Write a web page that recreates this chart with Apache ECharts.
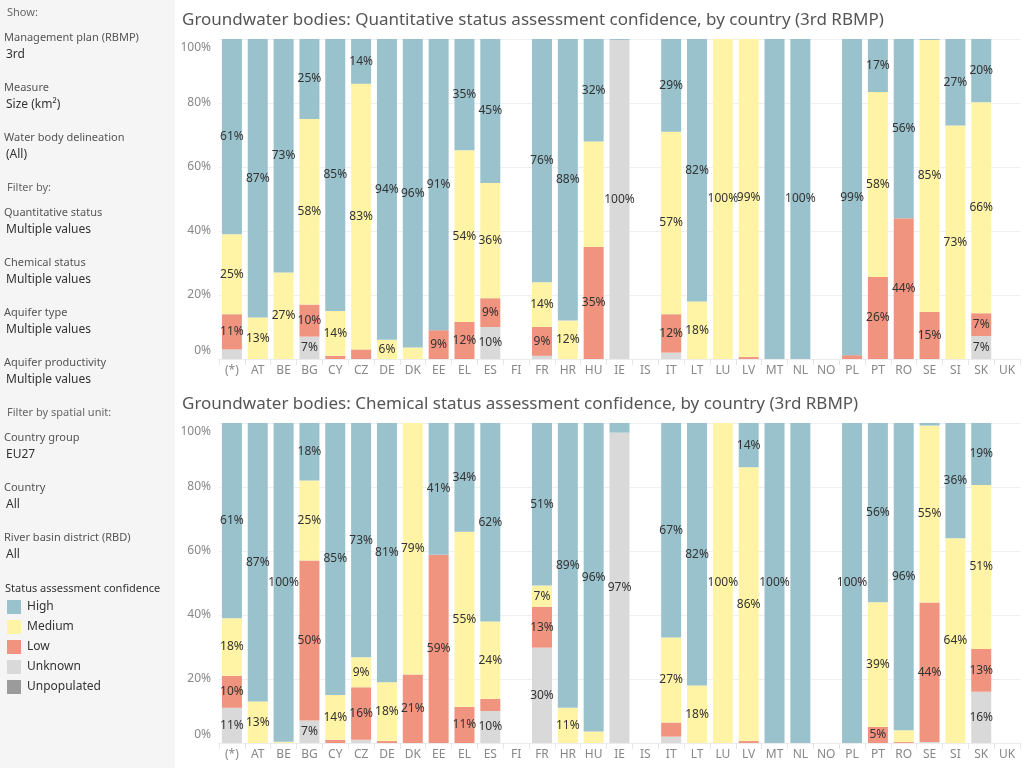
<!DOCTYPE html>
<html>
<head>
<meta charset="utf-8">
<script src="https://cdn.jsdelivr.net/npm/echarts@6/dist/echarts.min.js"></script>
<style>
  html, body { margin: 0; padding: 0; background: #fff; }
  #main { width: 1024px; height: 768px; }
</style>
</head>
<body>
<div id="main"></div>
<script>
var countries = ['(*)','AT','BE','BG','CY','CZ','DE','DK','EE','EL','ES','FI','FR','HR','HU','IE','IS','IT','LT','LU','LV','MT','NL','NO','PL','PT','RO','SE','SI','SK','UK'];
var yTicks = [0, 20, 40, 60, 80, 100];

// Quantitative status (top chart), % of area
var quantUnknown = [3, 0, 0, 7, 0, 0, 0, 0, 0, 0, 10, null, 1, 0, 0, 99.7, null, 2, 0, 0, 0, 0, 0, null, 0, 0, 0, 0, 0, 7.2, null];
var quantLow     = [11, 0, 0, 10, 1, 3, 0, 0, 9, 11.6, 9, null, 9, 0, 35, 0, null, 12, 0, 0, 0.6, 0, 0, null, 1.2, 25.6, 44, 14.7, 0, 7.1, null];
var quantMedium  = [25, 13, 27, 58, 14, 83, 6, 3.6, 0, 53.6, 36, null, 14, 12, 33, 0, null, 57, 18, 100, 99.4, 0, 0, null, 0, 57.8, 0, 85, 73, 65.9, null];
var quantHigh    = [61, 87, 73, 25, 85, 14, 94, 96.4, 91, 34.8, 45, null, 76, 88, 32, 0.3, null, 29, 82, 0, 0, 100, 100, null, 98.8, 16.6, 56, 0.3, 27, 19.8, null];

// Chemical status (bottom chart), % of area
var chemUnknown = [11, 0, 0, 7, 0, 1, 0, 0, 0, 0, 10, null, 29.8, 0, 0, 97, null, 2, 0, 0, 0, 0, 0, null, 0, 0, 0, 0.3, 0, 16, null];
var chemLow     = [10, 0, 0, 50, 1, 16.4, 0.6, 21.4, 58.8, 11.3, 3.8, null, 12.8, 0, 0, 0, null, 4.4, 0, 0, 0.6, 0, 0, null, 0, 5, 0.3, 43.6, 0, 13.4, null];
var chemMedium  = [18, 13, 0.4, 25, 14, 9.4, 18.4, 78.6, 0, 54.7, 24.2, null, 6.6, 11, 3.6, 0, null, 26.6, 18, 100, 85.6, 0, 0, null, 0, 39, 3.7, 55.3, 64, 51.2, null];
var chemHigh    = [61, 87, 99.6, 18, 85, 73.2, 81, 0, 41.2, 34, 62, null, 50.8, 89, 96.4, 3, null, 67, 82, 0, 13.8, 100, 100, null, 100, 56, 96, 0.8, 36, 19.4, null];

// labels Tableau dropped because they collided with neighbours
var quantHiddenLabels = ['HU|Medium', 'MT|High'];
var chemHiddenLabels = ['NL|High'];

var levels = ['Unknown', 'Low', 'Medium', 'High'];
var colors = { High: '#99c2cd', Medium: '#fff4a6', Low: '#f0937f', Unknown: '#d9d9d9', Unpopulated: '#9b9b9b' };
var font = '"Noto Sans", "Open Sans", sans-serif';

var chart = echarts.init(document.getElementById('main'));

function makeSeries(idx, data, hidden) {
  var list = [];
  for (var i = 0; i < levels.length; i++) {
    (function (lvl) {
      list.push({
        name: lvl,
        type: 'bar',
        stack: 'c' + idx,
        xAxisIndex: idx,
        yAxisIndex: idx,
        barWidth: 20,
        data: data[lvl],
        itemStyle: { color: colors[lvl] },
        label: {
          show: true,
          position: 'inside',
          color: '#333',
          fontSize: 12,
          fontFamily: font,
          formatter: function (p) {
            if (p.value == null || p.value < 5) return '';
            if (hidden.indexOf(p.name + '|' + lvl) >= 0) return '';
            return Math.round(p.value) + '%';
          }
        },
        emphasis: { disabled: true },
        silent: true
      });
    })(levels[i]);
  }
  return list;
}

function xAxis(idx) {
  return {
    type: 'category', gridIndex: idx, data: countries,
    axisLine: { lineStyle: { color: '#ececec' } },
    axisTick: { show: true, length: 6, lineStyle: { color: '#e6e6e6' } },
    axisLabel: { color: '#888', fontSize: 12, fontFamily: font, margin: 6, interval: 0 }
  };
}

function yAxis(idx) {
  return {
    type: 'value', gridIndex: idx, min: yTicks[0], max: yTicks[yTicks.length - 1], interval: 20,
    axisLine: { show: false }, axisTick: { show: false },
    splitLine: { lineStyle: { color: '#efefef' } },
    axisLabel: {
      color: '#888', fontSize: 12, fontFamily: font, margin: 8,
      formatter: function (v) {
        if (v === 100) return '{t|100%}';
        if (v === 0) return '{b|0%}';
        return v + '%';
      },
      rich: {
        t: { color: '#888', fontSize: 12, fontFamily: font, padding: [18, 0, 0, 0] },
        b: { color: '#888', fontSize: 12, fontFamily: font, padding: [0, 0, 16, 0] }
      }
    }
  };
}

// left filter panel
var panel = [
  ['Show:', 13, 7, '#666', 11],
  ['Management plan (RBMP)', 38, 4, '#555', 11],
  ['3rd', 55, 6, '#333', 12],
  ['Measure', 88, 4, '#555', 11],
  ['Size (km\u00b2)', 105, 6, '#333', 12],
  ['Water body delineation', 138, 4, '#555', 11],
  ['(All)', 155, 6, '#333', 12],
  ['Filter by:', 188, 7, '#666', 11],
  ['Quantitative status', 213, 4, '#555', 11],
  ['Multiple values', 230, 6, '#333', 12],
  ['Chemical status', 263, 4, '#555', 11],
  ['Multiple values', 280, 6, '#333', 12],
  ['Aquifer type', 313, 4, '#555', 11],
  ['Multiple values', 330, 6, '#333', 12],
  ['Aquifer productivity', 363, 4, '#555', 11],
  ['Multiple values', 380, 6, '#333', 12],
  ['Filter by spatial unit:', 413, 7, '#666', 11],
  ['Country group', 438, 4, '#555', 11],
  ['EU27', 455, 6, '#333', 12],
  ['Country', 488, 4, '#555', 11],
  ['All', 505, 6, '#333', 12],
  ['River basin district (RBD)', 538, 4, '#555', 11],
  ['All', 555, 6, '#333', 12],
  ['Status assessment confidence', 589, 5, '#333', 11]
];
var legendItems = ['High', 'Medium', 'Low', 'Unknown', 'Unpopulated'];

var graphics = [{ type: 'rect', shape: { x: 0, y: 0, width: 175, height: 768 }, style: { fill: '#f5f5f5' }, silent: true }];
panel.forEach(function (p) {
  graphics.push({ type: 'text', x: p[2], y: p[1], style: { text: p[0], fill: p[3], font: p[4] + 'px ' + font, textVerticalAlign: 'middle' }, silent: true });
});
legendItems.forEach(function (name, i) {
  var cy = 607 + i * 20;
  graphics.push({ type: 'rect', shape: { x: 7, y: cy - 7, width: 14, height: 14 }, style: { fill: colors[name] }, silent: true });
  graphics.push({ type: 'text', x: 27, y: cy, style: { text: name, fill: '#333', font: '12px ' + font, textVerticalAlign: 'middle' }, silent: true });
});

var option = {
  backgroundColor: '#fff',
  animation: false,
  title: [
    { text: 'Groundwater bodies: Quantitative status assessment confidence, by country (3rd RBMP)', left: 177, top: 7,
      textStyle: { color: '#555', fontSize: 17, fontWeight: 'normal', fontFamily: font } },
    { text: 'Groundwater bodies: Chemical status assessment confidence, by country (3rd RBMP)', left: 177, top: 391,
      textStyle: { color: '#555', fontSize: 17, fontWeight: 'normal', fontFamily: font } }
  ],
  grid: [
    { left: 219, right: 4, top: 39, height: 320 },
    { left: 219, right: 4, top: 423, height: 320 }
  ],
  xAxis: [xAxis(0), xAxis(1)],
  yAxis: [yAxis(0), yAxis(1)],
  graphic: graphics,
  series: makeSeries(0, { Unknown: quantUnknown, Low: quantLow, Medium: quantMedium, High: quantHigh }, quantHiddenLabels)
    .concat(makeSeries(1, { Unknown: chemUnknown, Low: chemLow, Medium: chemMedium, High: chemHigh }, chemHiddenLabels))
};

chart.setOption(option);
</script>
</body>
</html>
